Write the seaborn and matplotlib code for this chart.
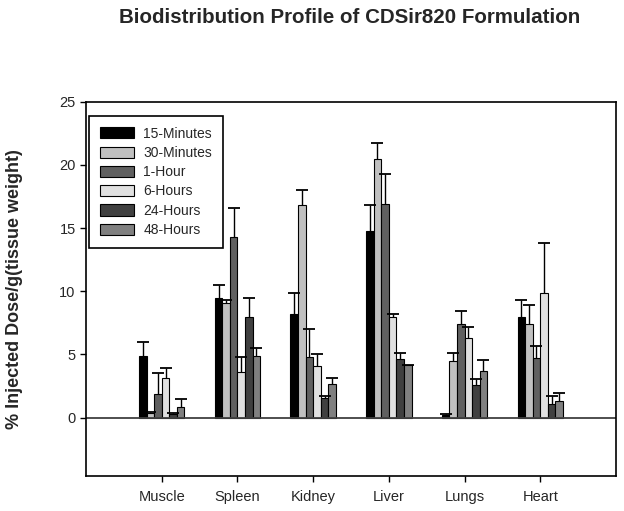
import numpy as np
import pandas as pd
import seaborn as sns
import matplotlib.pyplot as plt

organs = ['Muscle', 'Spleen', 'Kidney', 'Liver', 'Lungs', 'Heart']
timepoints = ['15-Minutes', '30-Minutes', '1-Hour', '6-Hours', '24-Hours', '48-Hours']

# mean values per organ, one list per time point
min15 = [4.85, 9.47, 8.2, 14.74, 0.18, 7.99]
min30 = [0.4, 9.1, 16.8, 20.47, 4.5, 7.44]
hr1 = [1.87, 14.3, 4.8, 16.93, 7.38, 4.69]
hr6 = [3.1, 3.6, 4.06, 7.99, 6.3, 9.89]
hr24 = [0.27, 8.0, 1.53, 4.64, 2.6, 1.1]
hr48 = [0.85, 4.9, 2.67, 4.14, 3.72, 1.32]

# upper error (SD)
err15 = [1.15, 1.03, 1.7, 2.11, 0.11, 1.29]
err30 = [0.08, 0.2, 1.2, 1.23, 0.59, 1.5]
err1 = [1.63, 2.3, 2.2, 2.35, 1.06, 0.95]
err6 = [0.8, 1.2, 0.94, 0.21, 0.9, 3.95]
err24 = [0.08, 1.5, 0.17, 0.45, 0.46, 0.59]
err48 = [0.65, 0.6, 0.43, 0.06, 0.84, 0.66]

colors = ['#000000', '#c0c0c0', '#606060', '#e0e0e0', '#404040', '#808080']

means = [min15, min30, hr1, hr6, hr24, hr48]
errs = [err15, err30, err1, err6, err24, err48]

df = pd.DataFrame({
    'organ': organs * len(timepoints),
    'time': np.repeat(timepoints, len(organs)),
    'value': np.concatenate(means),
})

sns.set_style('ticks')
plt.rcParams['font.family'] = ['Liberation Sans', 'DejaVu Sans']

fig = plt.figure(figsize=(6.24, 5.11), dpi=100)
ax = fig.add_axes([0.138, 0.069, 0.849, 0.732])

sns.barplot(data=df, x='organ', y='value', hue='time', order=organs,
            hue_order=timepoints, palette=colors, width=0.6, errorbar=None,
            edgecolor='black', linewidth=0.8, ax=ax)

# upper-only error bars with a cap at the top
for cont, err in zip(ax.containers, errs):
    xs = np.array([b.get_x() + b.get_width() / 2 for b in cont])
    hs = np.array([b.get_height() for b in cont])
    tops = hs + np.array(err)
    ax.vlines(xs, hs, tops, color='black', lw=1, zorder=3)
    ax.plot(xs, tops, ls='none', marker='_', ms=8, mew=1.3, color='black', zorder=3)

ax.axhline(0, color='#404040', lw=1.3, zorder=1)
ax.set_xlim(-1, 6)
ax.set_ylim(-4.6, 25)
ax.set_yticks([0, 5, 10, 15, 20, 25])
ax.set_xlabel('')
ax.set_ylabel('% Injected Dose/g(tissue weight)', fontsize=13, fontweight='bold')
ax.yaxis.set_label_coords(-0.119, 0.5)
ax.tick_params(axis='both', labelsize=10.5, length=4, width=1, color='black', direction='out')
ax.tick_params(axis='x', pad=6)
for s in ax.spines.values():
    s.set_color('black')
    s.set_linewidth(1.2)

leg = ax.legend(loc='upper left', bbox_to_anchor=(0.006, 0.963), borderaxespad=0,
                fontsize=10, frameon=True, fancybox=False, edgecolor='black',
                framealpha=1, handlelength=2.45, handleheight=0.86,
                labelspacing=0.38, borderpad=0.8, handletextpad=0.65)
leg.get_frame().set_linewidth(1.2)

fig.text(0.56, 0.965, 'Biodistribution Profile of CDSir820 Formulation',
         ha='center', va='center', fontsize=14.8, fontweight='bold')

fig.savefig('out.png', dpi=100)
